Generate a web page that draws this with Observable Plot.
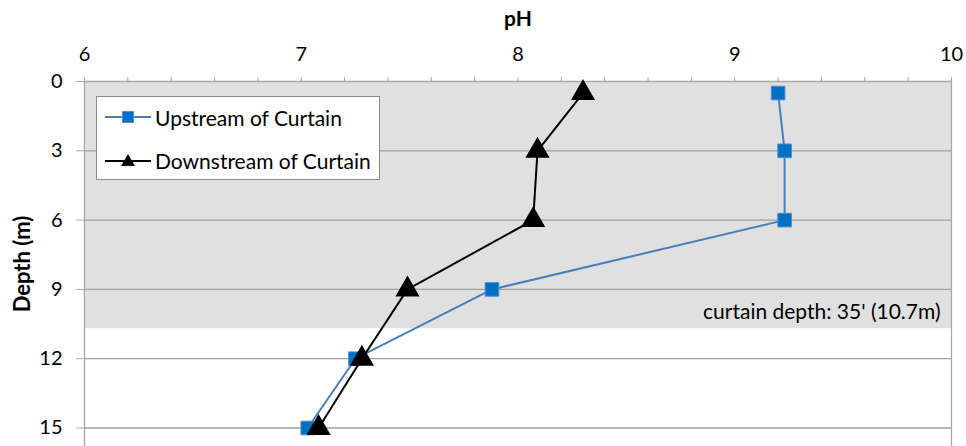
<!DOCTYPE html>
<html><head><meta charset="utf-8">
<script src="https://cdn.jsdelivr.net/npm/d3@7"></script>
<script src="https://cdn.jsdelivr.net/npm/@observablehq/plot@0.6"></script>
<style>
body{margin:0;background:#fff;}
#wrap{position:relative;width:966px;height:446px;font-family:Lato,"Open Sans",sans-serif;overflow:hidden;}
#legend{position:absolute;left:96px;top:96px;width:284px;height:84px;background:#fff;border:1px solid #8c8c8c;box-sizing:border-box;}
.row{position:absolute;left:8px;height:24px;display:flex;align-items:center;font-size:21px;color:#000;white-space:nowrap;}
.row svg{margin-right:4px;}
</style></head><body><div id="wrap"></div>
<script>
const depths = [0.5, 3, 6, 9, 12, 15];
const upstreamPH = [9.20, 9.23, 9.23, 7.88, 7.25, 7.03];
const downstreamPH = [8.30, 8.09, 8.07, 7.49, 7.28, 7.08];
const seriesNames = ["Upstream of Curtain", "Downstream of Curtain"];
const depthTicks = [0, 3, 6, 9, 12, 15];
const phTicks = [6, 7, 8, 9, 10];
const phMinorTicks = [6, 6.2, 6.4, 6.6, 6.8, 7, 7.2, 7.4, 7.6, 7.8, 8, 8.2, 8.4, 8.6, 8.8, 9, 9.2, 9.4, 9.6, 9.8, 10];
const curtainDepth = [10.7];
const curtainLabel = ["curtain depth: 35' (10.7m)"];
const xTitle = ["pH"];
const yTitle = ["Depth (m)"];

const up = depths.map((d, i) => ({depth: d, ph: upstreamPH[i]}));
const down = depths.map((d, i) => ({depth: d, ph: downstreamPH[i]}));
const band = curtainDepth.map(d => ({x1: phTicks[0], x2: phTicks[phTicks.length - 1], y1: 0, y2: d}));

const chart = Plot.plot({
  width: 966, height: 446,
  marginTop: 81, marginLeft: 84, marginRight: 15, marginBottom: 0,
  style: {fontFamily: "Lato, 'Open Sans', sans-serif", fontSize: "20px", color: "#000", background: "#fff", overflow: "visible"},
  x: {domain: [6, 10]},
  y: {domain: [0, 15.8], reverse: true},
  marks: [
    Plot.rect(band, {x1: "x1", x2: "x2", y1: "y1", y2: "y2", fill: "#e0e0e0"}),
    Plot.ruleY(depthTicks.filter(d => d > 0), {stroke: "#a0a0a0", strokeWidth: 1.3}),
    Plot.ruleY([0], {stroke: "#a6a6a6", strokeWidth: 1.3}),
    Plot.ruleX([6, 10], {stroke: "#a6a6a6", strokeWidth: 1.3}),
    Plot.axisX(phMinorTicks, {anchor: "top", tickSize: 5, tickFormat: () => "", stroke: "#a6a6a6", label: null}),
    Plot.axisX(phTicks, {anchor: "top", tickSize: 0, tickPadding: 21, tickFormat: d3.format("d"), label: null, fontSize: 20}),
    Plot.axisY(depthTicks, {anchor: "left", tickSize: 8, tickPadding: 14, tickFormat: d3.format("d"), stroke: "#a6a6a6", label: null, fontSize: 20}),
    Plot.line(up, {x: "ph", y: "depth", stroke: "#4a7ebb", strokeWidth: 2}),
    Plot.dot(up, {x: "ph", y: "depth", symbol: "square", r: 7.7, fill: "#0070c0", stroke: "#4a8fd6", strokeWidth: 1}),
    Plot.line(down, {x: "ph", y: "depth", stroke: "#000", strokeWidth: 2}),
    Plot.dot(down, {x: "ph", y: "depth", symbol: "triangle", r: 8, fill: "#000", stroke: "#000"}),
    Plot.text(curtainLabel, {x: 10, y: curtainDepth[0], text: d => d, textAnchor: "end", lineAnchor: "middle", dx: -11, dy: -16, fontSize: 21, fill: "#000"}),
    Plot.text(xTitle, {frameAnchor: "top", text: d => d, textAnchor: "middle", lineAnchor: "middle", dy: -62, fontWeight: "bold", fontSize: 21}),
    Plot.text(yTitle, {frameAnchor: "left", text: d => d, textAnchor: "middle", lineAnchor: "middle", rotate: -90, dx: -62, fontWeight: "bold", fontSize: 22})
  ]
});
const wrap = document.getElementById("wrap");
wrap.appendChild(chart);

const legend = document.createElement("div");
legend.id = "legend";
const legendSymbols = [
  `<svg width="46" height="20"><line x1="0" y1="10" x2="46" y2="10" stroke="#4a7ebb" stroke-width="2"/><rect x="17.5" y="4.5" width="11" height="11" fill="#0070c0" stroke="#4a8fd6"/></svg>`,
  `<svg width="46" height="20"><line x1="0" y1="11" x2="46" y2="11" stroke="#000" stroke-width="2"/><path d="M23,4 L30,16 L16,16 Z" fill="#000"/></svg>`
];
seriesNames.forEach((name, i) => {
  const row = document.createElement("div");
  row.className = "row";
  row.style.top = (i === 0 ? 8 : 51) + "px";
  row.innerHTML = legendSymbols[i] + `<span>${name}</span>`;
  legend.appendChild(row);
});
wrap.appendChild(legend);
</script></body></html>
